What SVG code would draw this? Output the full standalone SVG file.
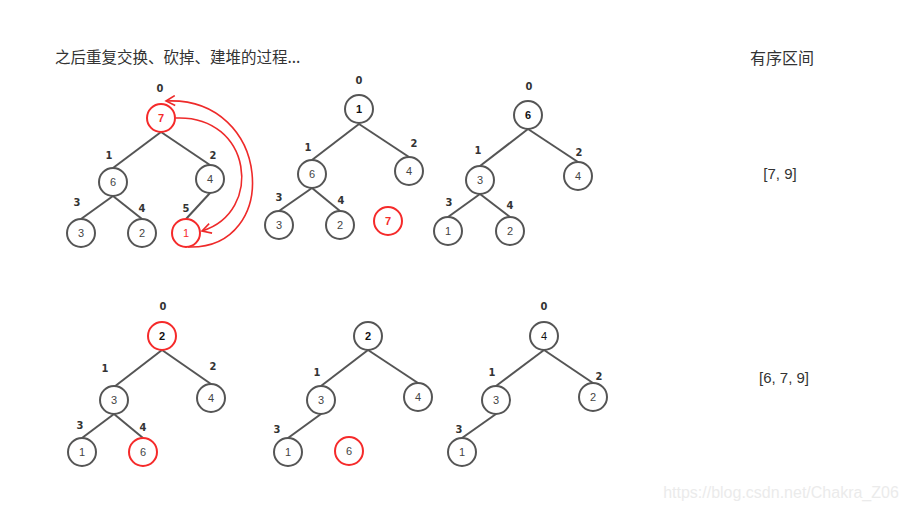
<svg xmlns="http://www.w3.org/2000/svg" width="906" height="511" viewBox="0 0 906 511">
<defs>
<marker id="arr" viewBox="0 0 12 12" refX="10" refY="6" markerWidth="12" markerHeight="12" markerUnits="userSpaceOnUse" orient="auto">
<path d="M1,1 L10,6 L1,11" fill="none" stroke="#ee2a2a" stroke-width="1.6"/>
</marker>
<style>
.n circle{fill:#fff;stroke:#555;stroke-width:2}
.n.red circle{stroke:#f52a2a}
.n text{font-family:"Liberation Sans",Arial,sans-serif;font-size:11px;fill:#444;text-anchor:middle;dominant-baseline:central}
.n.b text{font-weight:bold;fill:#111}
.n.rt text{fill:#f52a2a;font-weight:bold}
.e line{stroke:#555;stroke-width:2}
.idx{font-family:"DejaVu Sans Condensed","DejaVu Sans",sans-serif;font-weight:bold;font-size:11px;fill:#333;text-anchor:middle}
.t{font-family:"Noto Sans CJK SC","Liberation Sans",sans-serif;font-size:15.5px;fill:#333}
.arc{fill:none;stroke:#ee2a2a;stroke-width:1.6}
</style>
</defs>
<rect width="906" height="511" fill="#fff"/>
<text class="t" x="55" y="63">之后重复交换、砍掉、建堆的过程...</text>
<text class="t" x="782" y="64" text-anchor="middle" style="font-size:16px">有序区间</text>
<text class="t" x="780" y="179" text-anchor="middle" style="font-family:'Liberation Sans',sans-serif;font-size:15px">[7, 9]</text>
<text class="t" x="784" y="383" text-anchor="middle" style="font-family:'Liberation Sans',sans-serif;font-size:15px">[6, 7, 9]</text>
<text x="781" y="498" text-anchor="middle" style="font-family:'Liberation Sans',sans-serif;font-size:16px;fill:#ebebeb">https://blog.csdn.net/Chakra_Z06</text>

<g id="connectors" class="e">
<line x1="161" y1="132" x2="113" y2="168"/>
<line x1="161" y1="132" x2="210" y2="165"/>
<line x1="113" y1="196" x2="81" y2="219"/>
<line x1="113" y1="196" x2="142" y2="219"/>
<line x1="210" y1="193" x2="186" y2="219"/>

<line x1="359" y1="124" x2="312" y2="160"/>
<line x1="359" y1="124" x2="409" y2="157"/>
<line x1="312" y1="188" x2="279" y2="211"/>
<line x1="312" y1="188" x2="340" y2="211"/>

<line x1="528" y1="129" x2="480" y2="166"/>
<line x1="528" y1="129" x2="578" y2="162"/>
<line x1="480" y1="194" x2="448" y2="217"/>
<line x1="480" y1="194" x2="510" y2="217"/>

<line x1="162" y1="350" x2="114" y2="387"/>
<line x1="162" y1="350" x2="211" y2="384"/>
<line x1="114" y1="414" x2="82" y2="438"/>
<line x1="114" y1="414" x2="143" y2="438"/>

<line x1="368" y1="350" x2="321" y2="386"/>
<line x1="368" y1="350" x2="418" y2="383"/>
<line x1="321" y1="414" x2="288" y2="438"/>

<line x1="544" y1="350" x2="496" y2="386"/>
<line x1="544" y1="350" x2="593" y2="383"/>
<line x1="496" y1="414" x2="462" y2="438"/>

<path class="arc" d="M188,247 C282,250 272,96 166,101" marker-end="url(#arr)"/>
<path class="arc" d="M176,118 C252,115 264,212 202,231" marker-end="url(#arr)"/>
</g>

<g id="t1-n0" class="n red rt"><circle cx="161" cy="118" r="14"/><text x="161" y="118">7</text></g>
<g id="t1-n1" class="n"><circle cx="113" cy="182" r="14"/><text x="113" y="182">6</text></g>
<g id="t1-n2" class="n"><circle cx="210" cy="179" r="14"/><text x="210" y="179">4</text></g>
<g id="t1-n3" class="n"><circle cx="81" cy="233" r="14"/><text x="81" y="233">3</text></g>
<g id="t1-n4" class="n"><circle cx="142" cy="233" r="14"/><text x="142" y="233">2</text></g>
<g id="t1-n5" class="n red"><circle cx="186" cy="233" r="14"/><text x="186" y="233" style="fill:#f52a2a">1</text></g>

<g id="t2-n0" class="n b"><circle cx="359" cy="109" r="14"/><text x="359" y="109">1</text></g>
<g id="t2-n1" class="n"><circle cx="312" cy="174" r="14"/><text x="312" y="174">6</text></g>
<g id="t2-n2" class="n"><circle cx="409" cy="171" r="14"/><text x="409" y="171">4</text></g>
<g id="t2-n3" class="n"><circle cx="279" cy="225" r="14"/><text x="279" y="225">3</text></g>
<g id="t2-n4" class="n"><circle cx="340" cy="225" r="14"/><text x="340" y="225">2</text></g>
<g id="t2-n5" class="n red rt"><circle cx="388" cy="221" r="14"/><text x="388" y="221">7</text></g>

<g id="t3-n0" class="n b"><circle cx="528" cy="115" r="14"/><text x="528" y="115">6</text></g>
<g id="t3-n1" class="n"><circle cx="480" cy="180" r="14"/><text x="480" y="180">3</text></g>
<g id="t3-n2" class="n"><circle cx="578" cy="176" r="14"/><text x="578" y="176">4</text></g>
<g id="t3-n3" class="n"><circle cx="448" cy="231" r="14"/><text x="448" y="231">1</text></g>
<g id="t3-n4" class="n"><circle cx="510" cy="231" r="14"/><text x="510" y="231">2</text></g>

<g id="t4-n0" class="n red b"><circle cx="162" cy="336" r="14"/><text x="162" y="336">2</text></g>
<g id="t4-n1" class="n"><circle cx="114" cy="400" r="14"/><text x="114" y="400">3</text></g>
<g id="t4-n2" class="n"><circle cx="211" cy="398" r="14"/><text x="211" y="398">4</text></g>
<g id="t4-n3" class="n"><circle cx="82" cy="452" r="14"/><text x="82" y="452">1</text></g>
<g id="t4-n4" class="n red"><circle cx="143" cy="452" r="14"/><text x="143" y="452">6</text></g>

<g id="t5-n0" class="n b"><circle cx="368" cy="336" r="14"/><text x="368" y="336">2</text></g>
<g id="t5-n1" class="n"><circle cx="321" cy="400" r="14"/><text x="321" y="400">3</text></g>
<g id="t5-n2" class="n"><circle cx="418" cy="397" r="14"/><text x="418" y="397">4</text></g>
<g id="t5-n3" class="n"><circle cx="288" cy="452" r="14"/><text x="288" y="452">1</text></g>
<g id="t5-n4" class="n red"><circle cx="349" cy="451" r="14"/><text x="349" y="451">6</text></g>

<g id="t6-n0" class="n"><circle cx="544" cy="336" r="14"/><text x="544" y="336" style="fill:#111">4</text></g>
<g id="t6-n1" class="n"><circle cx="496" cy="400" r="14"/><text x="496" y="400">3</text></g>
<g id="t6-n2" class="n"><circle cx="593" cy="397" r="14"/><text x="593" y="397">2</text></g>
<g id="t6-n3" class="n"><circle cx="462" cy="452" r="14"/><text x="462" y="452">1</text></g>

<g id="indices">
<text class="idx" x="160" y="92">0</text>
<text class="idx" x="109" y="159">1</text>
<text class="idx" x="213" y="159">2</text>
<text class="idx" x="77" y="206">3</text>
<text class="idx" x="142" y="212">4</text>
<text class="idx" x="186" y="212">5</text>

<text class="idx" x="359" y="84">0</text>
<text class="idx" x="308" y="151">1</text>
<text class="idx" x="414" y="147">2</text>
<text class="idx" x="279" y="201">3</text>
<text class="idx" x="341" y="204">4</text>

<text class="idx" x="529" y="90">0</text>
<text class="idx" x="478" y="154">1</text>
<text class="idx" x="579" y="156">2</text>
<text class="idx" x="449" y="206">3</text>
<text class="idx" x="510" y="209">4</text>

<text class="idx" x="163" y="310">0</text>
<text class="idx" x="105" y="372">1</text>
<text class="idx" x="213" y="370">2</text>
<text class="idx" x="80" y="429">3</text>
<text class="idx" x="143" y="431">4</text>

<text class="idx" x="317" y="376">1</text>
<text class="idx" x="277" y="433">3</text>

<text class="idx" x="544" y="310">0</text>
<text class="idx" x="492" y="376">1</text>
<text class="idx" x="599" y="380">2</text>
<text class="idx" x="459" y="433">3</text>
</g>
</svg>
